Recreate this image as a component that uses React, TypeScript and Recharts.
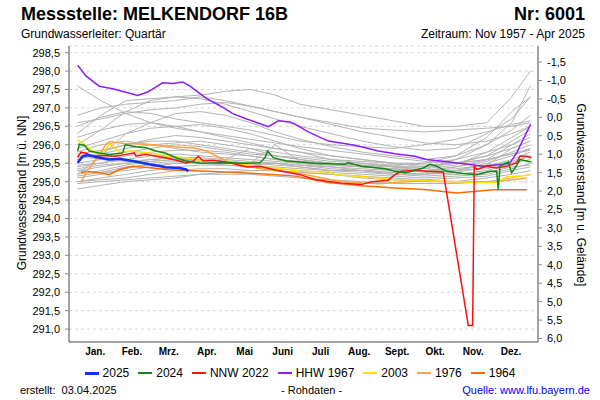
import React from "react";
import { LineChart, Line, XAxis, YAxis, CartesianGrid } from "recharts";

// x = day of year, y = level in m ü. NN
const monthStarts = [0, 31, 59, 90, 120, 151, 181, 212, 243, 273, 304, 334, 365];
const monthMids = [15.5, 45, 74.5, 105, 135.5, 166, 196.5, 227.5, 258, 288.5, 319, 349.5];
const monthNames = ["Jan.", "Feb.", "Mrz.", "Apr.", "Mai", "Juni", "Juli", "Aug.", "Sept.", "Okt.", "Nov.", "Dez."];

const levelTicks = [291, 291.5, 292, 292.5, 293, 293.5, 294, 294.5, 295, 295.5, 296, 296.5, 297, 297.5, 298, 298.5];
const depthTicks = [-1.5, -1, -0.5, 0, 0.5, 1, 1.5, 2, 2.5, 3, 3.5, 4, 4.5, 5, 5.5, 6];
const GROUND = 296.745;
const LEVEL_MIN = 290.65;
const LEVEL_MAX = 298.68;

// highlighted years
const days2025 = [1.4, 5.4, 9.4, 16.1, 26.8, 34.8, 45.6, 58.9, 72.3, 83, 88.4, 90.2];
const levels2025 = [295.51, 295.69, 295.72, 295.67, 295.6, 295.62, 295.56, 295.47, 295.39, 295.37, 295.33, 295.28];

const days2024 = [1.4, 2.7, 6.7, 10.7, 18.7, 26.7, 37.5, 39.6, 48.2, 56.2, 64.3, 72.3, 80.3, 88.4, 99.6, 115.7, 137.1, 147.8, 151.8, 154, 158.5, 169.2, 179.9, 192, 216.1, 218.7, 229.5, 248.2, 256.2, 264.3, 269.6, 279, 284.3, 289.7, 297.7, 311.1, 321.8, 332.5, 337.9, 339.2, 340.6, 347.2, 349.9, 355.3, 356.6, 362, 366];
const levels2024 = [295.83, 296.01, 295.99, 295.83, 295.78, 295.74, 295.78, 296.0, 295.95, 295.92, 295.83, 295.77, 295.65, 295.56, 295.5, 295.51, 295.5, 295.51, 295.65, 295.83, 295.65, 295.56, 295.53, 295.5, 295.47, 295.51, 295.42, 295.35, 295.28, 295.24, 295.28, 295.37, 295.47, 295.42, 295.28, 295.22, 295.19, 295.28, 295.28, 294.78, 295.42, 295.53, 295.24, 295.51, 295.6, 295.56, 295.53];

const daysNNW2022 = [1.4, 4, 8, 13.4, 21.4, 32.1, 40.2, 46.8, 48.2, 56.2, 64.3, 72.3, 83, 88.4, 94.2, 98.2, 102.2, 110.3, 123.7, 137.1, 147.8, 158.5, 179.9, 192, 213.4, 229.5, 237.5, 250.8, 256.2, 261.6, 272.3, 281.7, 295, 315.1, 318.6, 319.9, 321.8, 329.9, 337.9, 345.9, 354, 356.6, 362, 366];
const levelsNNW2022 = [295.65, 295.8, 295.77, 295.69, 295.71, 295.69, 295.74, 295.78, 295.69, 295.74, 295.69, 295.65, 295.56, 295.51, 295.56, 295.69, 295.56, 295.58, 295.51, 295.4, 295.42, 295.33, 295.19, 295.06, 294.96, 294.92, 295.0, 295.04, 295.19, 295.28, 295.31, 295.28, 295.26, 291.1, 291.1, 295.42, 295.33, 295.42, 295.37, 295.42, 295.51, 295.69, 295.69, 295.65];

const daysHHW1967 = [1.4, 8, 18.7, 29.5, 41.5, 49.6, 57.6, 69.6, 77.7, 85.7, 91.6, 105, 115.7, 126.3, 137.1, 154.5, 162.5, 171.9, 176, 186.6, 202.7, 224.1, 242.8, 256.2, 272.3, 281.7, 308.4, 327.1, 343.2, 348.6, 354, 359.3, 365.2];
const levelsHHW1967 = [298.16, 297.87, 297.59, 297.52, 297.41, 297.34, 297.43, 297.68, 297.66, 297.7, 297.59, 297.25, 297.06, 296.84, 296.7, 296.49, 296.65, 296.62, 296.56, 296.35, 296.1, 295.99, 295.83, 295.76, 295.69, 295.6, 295.5, 295.42, 295.47, 295.51, 295.78, 296.15, 296.56];

const days2003 = [1.4, 5.4, 13.4, 21.4, 26.8, 29.5, 34.8, 45.6, 58.9, 72.3, 88.4, 99.6, 123.7, 145.1, 161.2, 179.9, 197.2, 202.7, 208.1, 224.1, 242.8, 253.6, 272.3, 295, 321.8, 337.9, 345.9, 356.6, 365.2];
const levels2003 = [296.13, 296.04, 295.83, 295.77, 296.01, 295.97, 295.8, 295.83, 295.78, 295.69, 295.65, 295.58, 295.5, 295.42, 295.37, 295.28, 295.26, 295.28, 295.19, 295.15, 295.1, 295.06, 295.04, 295.01, 294.98, 294.98, 295.13, 295.15, 295.19];

const days1976 = [4, 8, 16.1, 24.1, 26.7, 37.5, 58.9, 72.3, 88.4, 94.2, 105, 113, 121, 137.1, 153.2, 179.9, 213, 243, 273, 304, 334, 362];
const levels1976 = [294.98, 295.24, 295.6, 296.01, 296.09, 296.04, 296.01, 295.97, 295.92, 295.92, 295.83, 295.69, 295.56, 295.42, 295.33, 295.22, 295.0, 294.94, 295.02, 295.0, 294.99, 295.1];

const days1964 = [4, 8, 18.7, 26.7, 34.8, 45.6, 61.6, 72.3, 83, 105, 130, 155, 176, 202.7, 229.5, 256.2, 272.3, 281.7, 305.8, 335.2, 362];
const levels1964 = [295.24, 295.28, 295.24, 295.19, 295.33, 295.42, 295.37, 295.33, 295.31, 295.28, 295.25, 295.2, 295.15, 294.98, 294.89, 294.83, 294.8, 294.78, 294.69, 294.78, 294.78];

// other years of the record (grey)
const histDays = [1, 20, 40, 60, 80, 100, 120, 140, 160, 180, 205, 230, 255, 280, 305, 330, 350, 365];
const hist01 = [297.6, 297.2, 296.85, 296.6, 296.45, 296.35, 296.25, 296.15, 296.05, 295.95, 295.85, 295.75, 295.65, 295.55, 295.5, 295.6, 295.75, 295.85];
const hist02 = [296.3, 296.8, 297.2, 297.25, 297.3, 297.35, 297.45, 297.5, 297.35, 297.1, 296.95, 296.8, 296.65, 296.5, 296.5, 296.6, 297.3, 298.0];
const hist03 = [296.0, 296.4, 296.9, 297.2, 297.3, 297.25, 297.1, 296.9, 296.7, 296.5, 296.3, 296.1, 295.95, 295.85, 295.9, 296.3, 296.7, 297.3];
const hist04 = [295.2, 295.7, 296.3, 296.6, 296.85, 296.9, 296.8, 296.6, 296.35, 296.15, 295.95, 295.8, 295.7, 295.6, 295.7, 296.0, 296.4, 296.8];
const hist05 = [296.5, 296.75, 296.9, 296.85, 296.7, 296.6, 296.5, 296.4, 296.25, 296.1, 296.0, 295.95, 295.9, 296.0, 296.15, 296.35, 296.55, 296.65];
const hist06 = [295.9, 296.1, 296.3, 296.45, 296.5, 296.55, 296.45, 296.3, 296.1, 295.9, 295.7, 295.6, 295.5, 295.4, 295.5, 295.7, 295.9, 296.1];
const hist07 = [295.6, 295.8, 296.0, 296.15, 296.25, 296.2, 296.1, 296.0, 295.9, 295.8, 295.6, 295.5, 295.4, 295.3, 295.4, 295.6, 296.0, 296.3];
const hist08 = [295.4, 295.5, 295.7, 295.8, 295.85, 295.85, 295.8, 295.7, 295.6, 295.5, 295.4, 295.3, 295.25, 295.2, 295.3, 295.5, 295.7, 295.9];
const hist09 = [295.3, 295.4, 295.5, 295.6, 295.65, 295.65, 295.6, 295.55, 295.5, 295.4, 295.3, 295.3, 295.2, 295.2, 295.25, 295.4, 295.6, 295.8];
const hist10 = [295.1, 295.2, 295.35, 295.5, 295.55, 295.6, 295.55, 295.5, 295.45, 295.4, 295.3, 295.25, 295.2, 295.15, 295.2, 295.3, 295.5, 295.6];
const hist11 = [295.0, 295.1, 295.2, 295.3, 295.4, 295.45, 295.45, 295.4, 295.35, 295.3, 295.25, 295.2, 295.15, 295.1, 295.15, 295.2, 295.35, 295.5];
const hist12 = [294.8, 294.9, 295.0, 295.05, 295.1, 295.2, 295.25, 295.3, 295.3, 295.25, 295.2, 295.1, 295.05, 295.0, 295.0, 295.1, 295.2, 295.3];
const hist13 = [295.5, 295.6, 295.8, 295.9, 296.0, 295.95, 295.85, 295.75, 295.7, 295.6, 295.5, 295.45, 295.4, 295.35, 295.45, 295.8, 296.2, 296.5];
const hist14 = [295.7, 295.6, 295.55, 295.6, 295.65, 295.6, 295.55, 295.5, 295.5, 295.45, 295.4, 295.35, 295.3, 295.3, 295.35, 295.45, 295.55, 295.7];
const hist15 = [295.2, 295.3, 295.45, 295.55, 295.6, 295.5, 295.5, 295.45, 295.5, 295.45, 295.35, 295.3, 295.35, 295.25, 295.2, 295.25, 295.4, 295.45];
const hist16 = [296.2, 296.4, 296.55, 296.6, 296.5, 296.35, 296.2, 296.05, 295.9, 295.8, 295.7, 295.6, 295.5, 295.5, 295.6, 295.8, 296.0, 296.2];
const hist17 = [295.0, 295.05, 295.1, 295.2, 295.3, 295.35, 295.35, 295.3, 295.3, 295.25, 295.2, 295.15, 295.1, 295.05, 295.1, 295.15, 295.3, 295.4];
const hist18 = [295.8, 296.0, 296.1, 296.0, 295.9, 295.8, 295.75, 295.7, 295.6, 295.55, 295.5, 295.4, 295.35, 295.3, 295.4, 295.55, 295.8, 296.0];
const hist19 = [295.45, 295.5, 295.6, 295.7, 295.75, 295.7, 295.65, 295.6, 295.55, 295.5, 295.45, 295.4, 295.35, 295.3, 295.3, 295.35, 295.5, 295.7];
const hist20 = [296.6, 296.7, 296.85, 296.95, 297.0, 297.1, 297.15, 297.05, 296.9, 296.75, 296.55, 296.35, 296.2, 296.05, 296.0, 296.1, 296.3, 296.5];
const hist21 = [295.3, 295.25, 295.3, 295.4, 295.5, 295.55, 295.6, 295.9, 295.7, 295.6, 295.5, 295.45, 295.4, 295.4, 295.5, 295.7, 296.1, 296.4];
const hist22 = [295.6, 295.75, 295.9, 296.0, 296.05, 296.1, 296.0, 295.9, 295.8, 295.7, 295.6, 295.55, 295.5, 295.45, 295.5, 295.6, 295.75, 295.9];
const hist23 = [294.95, 295.0, 295.05, 295.1, 295.15, 295.2, 295.2, 295.2, 295.15, 295.1, 295.05, 295.0, 294.95, 294.95, 294.95, 295.0, 295.1, 295.2];
const hist24 = [296.8, 297.0, 297.1, 297.15, 297.2, 297.3, 297.2, 297.05, 296.9, 296.75, 296.6, 296.45, 296.4, 296.35, 296.4, 296.45, 296.5, 296.6];
const hist25 = [295.35, 295.45, 295.5, 295.55, 295.6, 295.6, 295.55, 295.5, 296.0, 295.55, 295.45, 295.4, 295.45, 295.35, 295.6, 296.0, 296.6, 297.6];
const hist26 = [295.75, 295.85, 296.0, 296.1, 296.1, 296.0, 295.9, 295.8, 295.7, 295.65, 295.55, 295.5, 295.45, 295.5, 295.7, 296.2, 296.9, 297.3];
const hist27 = [295.15, 295.25, 295.4, 295.45, 295.5, 295.5, 295.45, 295.4, 295.4, 295.35, 295.3, 295.3, 295.25, 295.2, 295.3, 295.45, 295.9, 296.1];

const histLevels = [hist01, hist02, hist03, hist04, hist05, hist06, hist07, hist08, hist09, hist10, hist11, hist12, hist13, hist14, hist15, hist16, hist17, hist18, hist19, hist20, hist21, hist22, hist23, hist24, hist25, hist26, hist27];

const toPoints = (days: number[], levels: number[]) =>
  days.map((d, i) => ({ day: d, level: levels[i] }));

const highlighted = [
  { name: "1964", color: "#ff6a00", days: days1964, levels: levels1964, width: 1.5 },
  { name: "1976", color: "#ffa43a", days: days1976, levels: levels1976, width: 1.5 },
  { name: "2003", color: "#ffe000", days: days2003, levels: levels2003, width: 1.5 },
  { name: "HHW 1967", color: "#8c1cff", days: daysHHW1967, levels: levelsHHW1967, width: 1.5 },
  { name: "NNW 2022", color: "#ff1010", days: daysNNW2022, levels: levelsNNW2022, width: 1.5 },
  { name: "2024", color: "#118811", days: days2024, levels: levels2024, width: 1.5 },
  { name: "2025", color: "#1030ff", days: days2025, levels: levels2025, width: 2.5 },
];

const legendOrder = ["2025", "2024", "NNW 2022", "HHW 1967", "2003", "1976", "1964"];

const comma = (v: number) => v.toFixed(1).replace(".", ",");
const FONT = "'Liberation Sans', Arial, sans-serif";

export default function App() {
  return (
    <div style={{ position: "absolute", left: 0, top: 0, width: 600, height: 400, background: "#fff", fontFamily: FONT, color: "#000" }}>
      <div style={{ position: "absolute", left: 21, top: 4, fontSize: 18, fontWeight: "bold" }}>Messstelle: MELKENDORF 16B</div>
      <div style={{ position: "absolute", right: 15, top: 4, fontSize: 18, fontWeight: "bold" }}>Nr: 6001</div>
      <div style={{ position: "absolute", left: 21, top: 27, fontSize: 12 }}>Grundwasserleiter: Quartär</div>
      <div style={{ position: "absolute", right: 15, top: 27, fontSize: 12 }}>Zeitraum: Nov 1957 - Apr 2025</div>

      <LineChart width={600} height={400} margin={{ top: 46, right: 0, bottom: 31, left: 0 }} style={{ position: "absolute", left: 0, top: 0 }}>
        <CartesianGrid stroke="#d6d6d6" strokeDasharray="3 3" />
        <XAxis
          xAxisId={0}
          dataKey="day"
          type="number"
          domain={[-5.6, 371.1]}
          allowDataOverflow
          ticks={monthStarts}
          tick={false}
          tickSize={4}
          height={5}
          stroke="#888"
          axisLine={{ stroke: "#888", strokeWidth: 1.5 }}
        />
        <XAxis
          xAxisId="lab"
          dataKey="day"
          type="number"
          domain={[-5.6, 371.1]}
          allowDataOverflow
          ticks={monthMids}
          tickFormatter={(v: number) => monthNames[monthMids.indexOf(v)]}
          axisLine={false}
          tickLine={false}
          tickSize={0}
          tickMargin={1}
          height={22}
          interval={0}
          tick={{ fontSize: 10, fontWeight: "bold", fill: "#000", fontFamily: FONT }}
        />
        <YAxis
          yAxisId={0}
          type="number"
          domain={[LEVEL_MIN, LEVEL_MAX]}
          allowDataOverflow
          ticks={levelTicks}
          interval={0}
          tickFormatter={comma}
          width={69}
          tickSize={4}
          tickMargin={5}
          stroke="#888"
          axisLine={{ stroke: "#888", strokeWidth: 1.5 }}
          tick={{ fontSize: 11, fill: "#000", fontFamily: FONT }}
        />
        <YAxis
          yAxisId="right"
          orientation="right"
          type="number"
          reversed
          domain={[GROUND - LEVEL_MAX, GROUND - LEVEL_MIN]}
          allowDataOverflow
          ticks={depthTicks}
          interval={0}
          tickFormatter={comma}
          width={62}
          tickSize={4}
          tickMargin={5}
          stroke="#888"
          axisLine={{ stroke: "#888", strokeWidth: 1.5 }}
          tick={{ fontSize: 11, fill: "#000", fontFamily: FONT }}
        />
        {histLevels.map((lv, i) => (
          <Line
            key={"h" + i}
            data={toPoints(histDays, lv)}
            dataKey="level"
            xAxisId={0}
            yAxisId={0}
            stroke="#b4b4b4"
            strokeWidth={1}
            dot={false}
            activeDot={false}
            isAnimationActive={false}
          />
        ))}
        {highlighted.map((s) => (
          <Line
            key={s.name}
            data={toPoints(s.days, s.levels)}
            dataKey="level"
            xAxisId={0}
            yAxisId={0}
            stroke={s.color}
            strokeWidth={s.width}
            dot={false}
            activeDot={false}
            isAnimationActive={false}
          />
        ))}
      </LineChart>

      <div style={{ position: "absolute", left: 22, top: 193, fontSize: 12, whiteSpace: "nowrap", transform: "translate(-50%, -50%) rotate(-90deg)" }}>
        Grundwasserstand [m ü. NN]
      </div>
      <div style={{ position: "absolute", left: 581, top: 195, fontSize: 12, whiteSpace: "nowrap", transform: "translate(-50%, -50%) rotate(90deg)" }}>
        Grundwasserstand [m u. Gelände]
      </div>

      <div style={{ position: "absolute", left: 0, top: 366, width: 600, display: "flex", justifyContent: "center", alignItems: "center", fontSize: 12, gap: 9 }}>
        {legendOrder.map((n) => {
          const s = highlighted.find((h) => h.name === n)!;
          return (
            <div key={n} style={{ display: "flex", alignItems: "center" }}>
              <span style={{ display: "inline-block", width: 14, height: n === "2025" ? 3 : 2, background: s.color, marginRight: 4 }} />
              <span>{n}</span>
            </div>
          );
        })}
      </div>

      <div style={{ position: "absolute", left: 20, top: 384, fontSize: 11, whiteSpace: "pre" }}>erstellt:  03.04.2025</div>
      <div style={{ position: "absolute", left: 281, top: 384, fontSize: 11 }}>- Rohdaten -</div>
      <div style={{ position: "absolute", right: 10, top: 384, fontSize: 11, color: "#0000ff" }}>Quelle: www.lfu.bayern.de</div>
    </div>
  );
}
